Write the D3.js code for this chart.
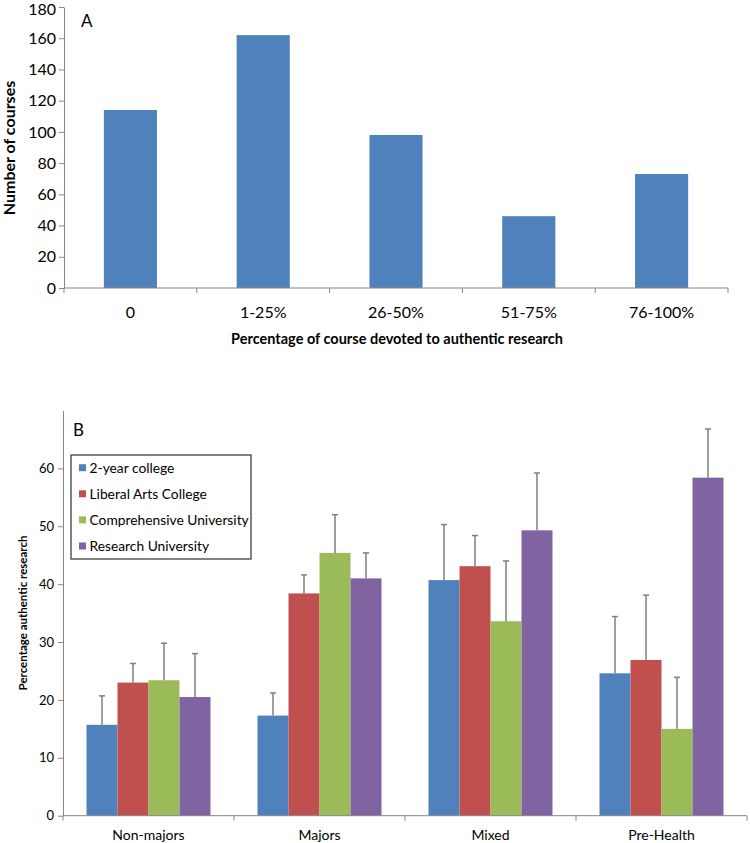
<!DOCTYPE html>
<html>
<head>
<meta charset="utf-8">
<script src="https://d3js.org/d3.v7.min.js"></script>
<style>
  body { margin: 0; background: #fff; }
  svg { display: block; }
  text { font-family: Lato, "Liberation Sans", sans-serif; fill: #000; }
  .axis path, .axis line { stroke: #868686; }
</style>
</head>
<body>
<svg id="chart" width="750" height="843"></svg>
<script>
// Panel A
const catsA = ["0", "1-25%", "26-50%", "51-75%", "76-100%"];
const countsA = [114, 162, 98, 46, 73];
const ticksA = [0, 20, 40, 60, 80, 100, 120, 140, 160, 180];

// Panel B
const groupsB = ["Non-majors", "Majors", "Mixed", "Pre-Health"];
const seriesB = ["2-year college", "Liberal Arts College", "Comprehensive University", "Research University"];
const colorsB = ["#4f81bd", "#c0504d", "#9bbb59", "#8064a2"];
const valuesB = [
  [15.7, 17.3, 40.7, 24.6],
  [23.0, 38.4, 43.1, 26.9],
  [23.4, 45.4, 33.6, 15.0],
  [20.5, 41.0, 49.3, 58.4]
];
const errorsB = [
  [5.0, 3.9, 9.6, 9.8],
  [3.3, 3.2, 5.3, 11.2],
  [6.4, 6.6, 10.4, 8.9],
  [7.5, 4.4, 9.9, 8.4]
];
const ticksB = [0, 10, 20, 30, 40, 50, 60];

const svg = d3.select("#chart");

// ---------- A ----------
const xA = d3.scaleBand().domain(catsA).range([64, 728]).paddingInner(0.6).paddingOuter(0.3);
const yA = d3.scaleLinear().domain([0, 180]).range([288, 7]);

const gA = svg.append("g");
gA.selectAll("rect").data(catsA).enter().append("rect")
  .attr("x", d => xA(d))
  .attr("width", xA.bandwidth())
  .attr("y", (d, i) => yA(countsA[i]))
  .attr("height", (d, i) => yA(0) - yA(countsA[i]))
  .attr("fill", "#4f81bd");

gA.append("g").attr("class", "axis")
  .attr("transform", "translate(64,0)")
  .call(d3.axisLeft(yA).tickValues(ticksA).tickSize(5).tickSizeOuter(0))
  .call(g => g.selectAll("text").attr("font-size", 16).attr("x", -8).attr("font-family", "Lato")
    .attr("dy", d => d === 180 ? "0.45em" : "0.32em"));

// x axis with ticks on category boundaries
const axA = gA.append("g").attr("class", "axis");
axA.append("line").attr("x1", 64).attr("x2", 728).attr("y1", yA(0)).attr("y2", yA(0));
const bndA = catsA.map(d => xA(d) - xA.step() * xA.paddingInner() / 2).concat([728]);
axA.selectAll(".tk").data(bndA).enter().append("line")
  .attr("x1", d => d).attr("x2", d => d)
  .attr("y1", yA(0)).attr("y2", yA(0) + 5);
gA.selectAll(".cl").data(catsA).enter().append("text")
  .attr("x", d => xA(d) + xA.bandwidth() / 2)
  .attr("y", 318)
  .attr("text-anchor", "middle")
  .attr("font-size", 16)
  .text(d => d);

gA.append("text").attr("x", 81).attr("y", 27).attr("font-size", 17).text("A");
gA.append("text").attr("x", 397).attr("y", 344).attr("text-anchor", "middle")
  .attr("font-size", 14.5).attr("font-weight", "bold")
  .text("Percentage of course devoted to authentic research");
gA.append("text")
  .attr("transform", "translate(14.5,148) rotate(-90)")
  .attr("text-anchor", "middle")
  .attr("font-family", "Liberation Sans")
  .attr("font-size", 16).attr("font-weight", "bold")
  .text("Number of courses");

// ---------- B ----------
const x0 = d3.scaleBand().domain(groupsB).range([63, 747]).paddingInner(0.275).paddingOuter(0.1375);
const x1 = d3.scaleBand().domain(seriesB).range([0, x0.bandwidth()]);
const yB = d3.scaleLinear().domain([0, 70]).range([815.7, 410.5]);

const gB = svg.append("g");
seriesB.forEach((s, si) => {
  gB.append("g").selectAll("rect").data(groupsB).enter().append("rect")
    .attr("x", d => x0(d) + x1(s))
    .attr("width", x1.bandwidth())
    .attr("y", (d, gi) => yB(valuesB[si][gi]))
    .attr("height", (d, gi) => yB(0) - yB(valuesB[si][gi]))
    .attr("fill", colorsB[si]);
});
// error bars (upper only)
seriesB.forEach((s, si) => {
  const eg = gB.append("g").attr("stroke", "#7f7f7f").attr("stroke-width", 1.5);
  groupsB.forEach((g, gi) => {
    const cx = x0(g) + x1(s) + x1.bandwidth() / 2;
    const top = yB(valuesB[si][gi] + errorsB[si][gi]);
    eg.append("line").attr("x1", cx).attr("x2", cx).attr("y1", yB(valuesB[si][gi])).attr("y2", top);
    eg.append("line").attr("x1", cx - 3).attr("x2", cx + 3).attr("y1", top).attr("y2", top);
  });
});

gB.append("g").attr("class", "axis")
  .attr("transform", "translate(63,0)")
  .call(d3.axisLeft(yB).tickValues(ticksB).tickSize(5).tickSizeOuter(0))
  .call(g => g.selectAll("text").attr("font-size", 13).attr("x", -9).attr("font-family", "Lato").attr("fill", "#262626"));

const axB = gB.append("g").attr("class", "axis");
axB.append("line").attr("x1", 63).attr("x2", 747).attr("y1", yB(0)).attr("y2", yB(0));
const bndB = groupsB.map(d => x0(d) - x0.step() * x0.paddingInner() / 2).concat([747]);
axB.selectAll(".tk").data(bndB).enter().append("line")
  .attr("x1", d => d).attr("x2", d => d)
  .attr("y1", yB(0)).attr("y2", yB(0) + 5);
gB.selectAll(".cl").data(groupsB).enter().append("text")
  .attr("x", d => x0(d) + x0.bandwidth() / 2)
  .attr("y", 840)
  .attr("text-anchor", "middle")
  .attr("font-size", 14)
  .attr("fill", "#262626")
  .text(d => d);

gB.append("text").attr("x", 73).attr("y", 436).attr("font-size", 17).text("B");
gB.append("text")
  .attr("transform", "translate(26.5,613) rotate(-90)")
  .attr("text-anchor", "middle")
  .attr("font-family", "Liberation Sans")
  .attr("font-size", 11.5).attr("font-weight", "bold")
  .text("Percentage authentic research");

// legend
const lg = gB.append("g");
lg.append("rect").attr("x", 71).attr("y", 455).attr("width", 180).attr("height", 104)
  .attr("fill", "#fff").attr("stroke", "#404040").attr("stroke-width", 1.3);
seriesB.forEach((s, i) => {
  const cy = 467.7 + i * 26.1;
  lg.append("rect").attr("x", 79).attr("y", cy - 3.5).attr("width", 7).attr("height", 7).attr("fill", colorsB[i]);
  lg.append("text").attr("x", 89.5).attr("y", cy + 5).attr("font-size", 13.8).attr("fill", "#262626").text(s);
});
</script>
</body>
</html>
